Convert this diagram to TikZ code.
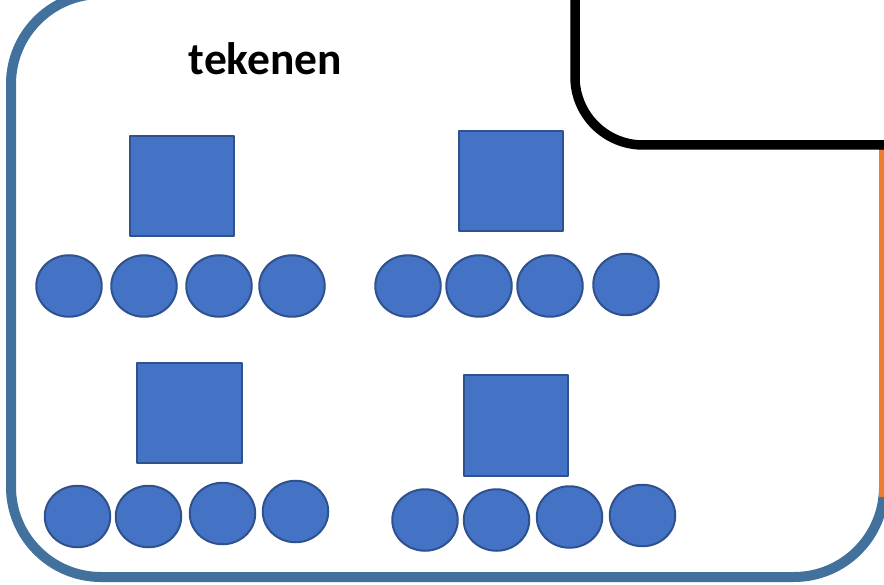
\documentclass[tikz,border=0pt]{standalone}
\usepackage{fontspec}
\setmainfont{Carlito}
\usepackage{tikz}
\usetikzlibrary{shapes.geometric}

\definecolor{shapefill}{HTML}{4472C4}
\definecolor{shapeline}{HTML}{2F528F}
\definecolor{frameblue}{HTML}{41719C}
\definecolor{frameorange}{HTML}{ED7D31}

\begin{document}
\begin{tikzpicture}[
            x = 1pt, y = -1pt, % pixel units, y downwards
            node distance = 73pt, % distance between circles
            line join = round
        ]

        \tikzstyle{block}=[
            rectangle,
            draw = shapeline,
            fill = shapefill,
            line width = 2pt,
            minimum width = 104.5pt,
            minimum height = 100.5pt
        ]
        \tikzstyle{ball}=[
            ellipse,
            draw = shapeline,
            fill = shapefill,
            line width = 2pt,
            inner sep = 0pt,
            minimum width = 65.5pt,
            minimum height = 61.5pt
        ]

        \useasboundingbox (0,0) rectangle (884,585);

        % frames
        \draw[frameblue, line width = 10pt, rounded corners = 90pt] (11,-6) rectangle (884,577);
        \draw[frameorange, line width = 10pt] (884,150) -- (884,497);
        \draw[black, fill = white, line width = 9.5pt, rounded corners = 68pt]
            (575,-100) -- (575,145) -- (1000,145) -- (1000,-100) -- cycle;

        \node[font = \bfseries\fontsize{45.5}{50}\selectfont, anchor = base] (title) at (265.5,75) {tekenen};

        % top left
        \node[block] (s1) at (182,186) {};
        \node[ball] (b11) at (69,286) {};
        \node[ball] (b12) [right of=b11, xshift=2pt] {};
        \node[ball] (b13) [right of=b12, xshift=2pt] {};
        \node[ball] (b14) [right of=b13] {};

        % top right
        \node[block] (s2) at (511,181) {};
        \node[ball] (b21) at (408,286) {};
        \node[ball] (b22) [right of=b21, xshift=-2pt] {};
        \node[ball] (b23) [right of=b22, xshift=-2pt] {};
        \node[ball] (b24) [right of=b23, xshift=3pt, yshift=1.5pt] {};

        % bottom left
        \node[block] (s3) at (189.5,413) {};
        \node[ball] (b31) at (77.5,516.5) {};
        \node[ball] (b32) [right of=b31, xshift=-2pt] {};
        \node[ball] (b33) [right of=b32, xshift=1pt, yshift=3pt] {};
        \node[ball] (b34) [right of=b33, yshift=2pt] {};

        % bottom right
        \node[block] (s4) at (516,425.5) {};
        \node[ball] (b41) at (425,520) {};
        \node[ball] (b42) [right of=b41, xshift=-1.5pt] {};
        \node[ball] (b43) [right of=b42, yshift=3pt] {};
        \node[ball] (b44) [right of=b43, yshift=1.5pt] {};

  \end{tikzpicture}
\end{document}
